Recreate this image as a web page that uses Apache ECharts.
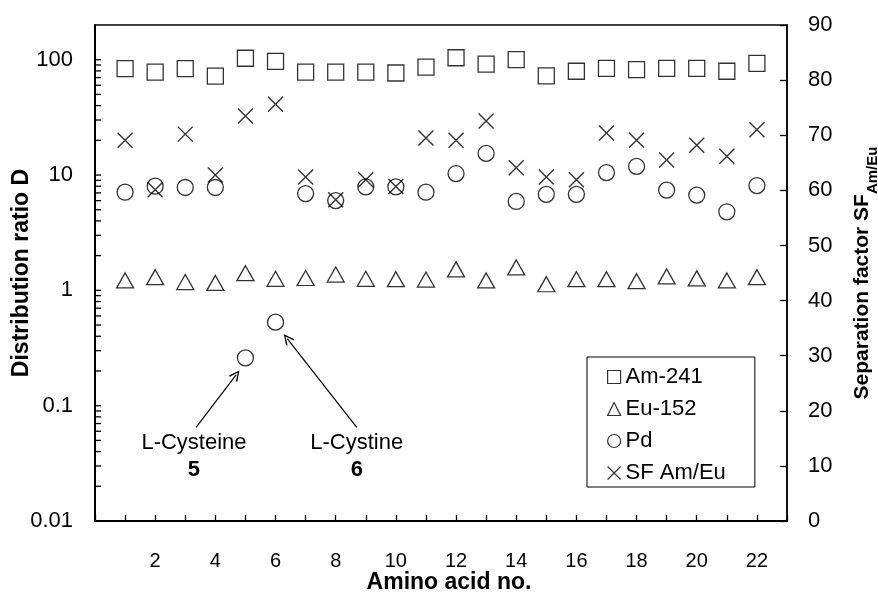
<!DOCTYPE html>
<html>
<head>
<meta charset="utf-8">
<title>Distribution ratio D / SF Am/Eu vs amino acid</title>
<script src="https://cdn.jsdelivr.net/npm/echarts@6.0.0/dist/echarts.min.js"></script>
<style>
  html, body { margin: 0; padding: 0; background: #fff; }
  #chart { width: 878px; height: 594px; }
</style>
</head>
<body>
<div id="chart"></div>
<script>
// x: amino acid no.
const aminoNo = [1, 2, 3, 4, 5, 6, 7, 8, 9, 10, 11, 12, 13, 14, 15, 16, 17, 18, 19, 20, 21, 22]
// distribution ratios (left, log axis)
const am241 = [83.7, 78.2, 83.7, 72.2, 103, 96.9, 78.2, 78.2, 78.2, 76.7, 86.4, 104, 91.4, 100, 72.3, 79.4, 84, 82, 84, 84, 79.4, 93]
const eu152 = [1.22, 1.30, 1.18, 1.16, 1.41, 1.26, 1.28, 1.37, 1.26, 1.25, 1.24, 1.52, 1.22, 1.58, 1.13, 1.25, 1.25, 1.2, 1.32, 1.27, 1.22, 1.3]
const pd = [7.1, 8.0, 7.8, 7.8, 0.26, 0.53, 6.9, 6.0, 7.9, 7.9, 7.1, 10.3, 15.4, 5.9, 6.8, 6.8, 10.5, 11.9, 7.4, 6.7, 4.8, 8.1]
// separation factor (right axis)
const sfAmEu = [69.1, 60.1, 70.2, 62.8, 73.5, 75.6, 62.4, 58.3, 61.9, 60.7, 69.5, 69.1, 72.6, 64.1, 62.4, 61.9, 70.4, 69.1, 65.5, 68.2, 66.2, 71]

// tick labels / log tick positions
const xTickLabels = [2, 4, 6, 8, 10, 12, 14, 16, 18, 20, 22]
const logDecades = [0.01, 0.1, 1, 10]
const logSteps = [1, 2, 3, 4, 5, 6, 7, 8, 9]

// annotations (data coords)
const annotLabels = ['L-Cysteine', 'L-Cystine']
const annotNos = ['5', '6']
const annotAt = [[3.29, 0.0363], [8.7, 0.0363]]
const arrowFrom = [[3.36, 0.0648], [8.7, 0.0648]]
const arrowTo = [[4.69, 0.185], [6.39, 0.381]]

const FONT = '"Liberation Sans", Arial, Helvetica, sans-serif'
const crossPath = 'path://M0,0L10,10M10,0L0,10'
// open arrow head (chevron), tip up
const arrowHead = 'path://M5,0L10,9L8.9,10L5,2.4L1.1,10L0,9Z'

// all ticks (major + minor) of the left log axis
const logTicks = []
logDecades.forEach((d) => logSteps.forEach((s) => logTicks.push(+(d * s).toPrecision(2))))
logTicks.push(100)

const hollow = { color: 'transparent', borderColor: '#000', borderWidth: 1.3 }
const toPairs = (ys) => aminoNo.map((n, i) => [n, ys[i]])

const myChart = echarts.init(document.getElementById('chart'))

const option = {
  animation: false,
  textStyle: { fontFamily: FONT, color: '#000' },
  grid: {
    left: 95,
    right: 91,
    top: 25,
    bottom: 73,
    outerBoundsMode: 'none',
    containLabel: false,
    show: true,
    borderColor: '#000',
    borderWidth: 1.5
  },
  legend: {
    orient: 'vertical',
    left: 587,
    top: 357,
    padding: [9, 29, 3, 20],
    itemGap: 10,
    itemWidth: 13,
    itemHeight: 13,
    borderColor: '#000',
    borderWidth: 1,
    borderRadius: 0,
    backgroundColor: '#fff',
    itemStyle: { color: 'transparent', borderColor: '#000', borderWidth: 1.2 },
    textStyle: { fontSize: 22, color: '#000', fontFamily: FONT },
    data: ['Am-241', 'Eu-152', 'Pd', 'SF Am/Eu']
  },
  xAxis: {
    type: 'value',
    min: 0,
    max: 23,
    interval: 1,
    name: 'Amino acid no.',
    nameLocation: 'middle',
    nameGap: 50,
    nameMoveOverlap: false,
    nameTextStyle: { fontSize: 23, fontWeight: 'bold', color: '#000', fontFamily: FONT, padding: [0, 0, 0, 16] },
    axisLine: { lineStyle: { color: '#000', width: 2 } },
    axisTick: { show: true, inside: true, length: 6, lineStyle: { color: '#000', width: 1.3 } },
    axisLabel: {
      margin: 30,
      fontSize: 20,
      color: '#000',
      fontFamily: FONT,
      formatter: (v) => (xTickLabels.includes(v) ? String(v) : '')
    },
    splitLine: { show: false }
  },
  yAxis: [
    {
      type: 'log',
      logBase: 10,
      min: 0.01,
      max: 200,
      position: 'left',
      name: 'Distribution ratio D',
      nameLocation: 'middle',
      nameGap: 62,
      nameMoveOverlap: false,
      nameTextStyle: { fontSize: 23, fontWeight: 'bold', color: '#000', fontFamily: FONT },
      axisLine: { show: true, lineStyle: { color: '#000', width: 2 } },
      // ticks are drawn by the "log ticks" custom series below
      axisTick: { show: false },
      minorTick: { show: false },
      axisLabel: {
        margin: 22,
        fontSize: 22,
        color: '#000',
        fontFamily: FONT,
        formatter: (v) => (v > 150 ? '' : String(+v.toPrecision(2)))
      },
      splitLine: { show: false }
    },
    {
      type: 'value',
      min: 0,
      max: 90,
      interval: 10,
      position: 'right',
      name: '{a|Separation factor SF}{b|Am/Eu}',
      nameLocation: 'middle',
      nameGap: 65,
      nameMoveOverlap: false,
      nameTextStyle: {
        color: '#000',
        rich: {
          a: { fontSize: 21, fontWeight: 'bold', fontFamily: FONT, color: '#000', lineHeight: 28, verticalAlign: 'top' },
          b: { fontSize: 15, fontWeight: 'bold', fontFamily: FONT, color: '#000', lineHeight: 28, verticalAlign: 'bottom' }
        }
      },
      axisLine: { show: true, lineStyle: { color: '#000', width: 1.5 } },
      axisTick: { show: true, inside: true, length: 7, lineStyle: { color: '#000', width: 1.3 } },
      axisLabel: { margin: 21, fontSize: 22, color: '#000', fontFamily: FONT },
      splitLine: { show: false }
    }
  ],
  series: [
    {
      // log ticks of the left axis, placed through the log scale
      name: 'log ticks',
      type: 'custom',
      yAxisIndex: 0,
      silent: true,
      z: 5,
      data: logTicks.map((v) => [0, v]),
      renderItem: (params, api) => {
        const p = api.coord([api.value(0), api.value(1)])
        return {
          type: 'line',
          shape: { x1: p[0], y1: p[1], x2: p[0] + 6, y2: p[1] },
          style: { stroke: '#000', lineWidth: 1.3 }
        }
      }
    },
    {
      name: 'Am-241',
      type: 'scatter',
      yAxisIndex: 0,
      symbol: 'rect',
      symbolSize: 16,
      itemStyle: hollow,
      silent: true,
      data: toPairs(am241)
    },
    {
      name: 'Eu-152',
      type: 'scatter',
      yAxisIndex: 0,
      symbol: 'triangle',
      symbolSize: [17, 15],
      itemStyle: hollow,
      silent: true,
      data: toPairs(eu152)
    },
    {
      name: 'Pd',
      type: 'scatter',
      yAxisIndex: 0,
      symbol: 'circle',
      symbolSize: 16,
      itemStyle: hollow,
      silent: true,
      data: toPairs(pd),
      markLine: {
        silent: true,
        symbol: ['none', arrowHead],
        symbolSize: [10, 11],
        label: { show: false },
        lineStyle: { color: '#000', width: 1.2, type: 'solid' },
        data: arrowFrom.map((f, i) => [{ coord: f }, { coord: arrowTo[i] }])
      },
      markPoint: {
        silent: true,
        symbol: 'circle',
        symbolSize: 0,
        itemStyle: { color: 'transparent' },
        label: {
          show: true,
          position: 'inside',
          formatter: (p) => '{a|' + p.name + '}\n{b|' + p.value + '}',
          rich: {
            a: { fontSize: 22, color: '#000', fontFamily: FONT, lineHeight: 27 },
            b: { fontSize: 22, fontWeight: 'bold', color: '#000', fontFamily: FONT, lineHeight: 27 }
          }
        },
        data: annotLabels.map((t, i) => ({ name: t, value: annotNos[i], coord: annotAt[i] }))
      }
    },
    {
      name: 'SF Am/Eu',
      type: 'scatter',
      yAxisIndex: 1,
      symbol: crossPath,
      symbolSize: 15,
      itemStyle: { color: 'transparent', borderColor: '#000', borderWidth: 1.4 },
      silent: true,
      data: toPairs(sfAmEu)
    }
  ]
}

myChart.setOption(option)
</script>
</body>
</html>
